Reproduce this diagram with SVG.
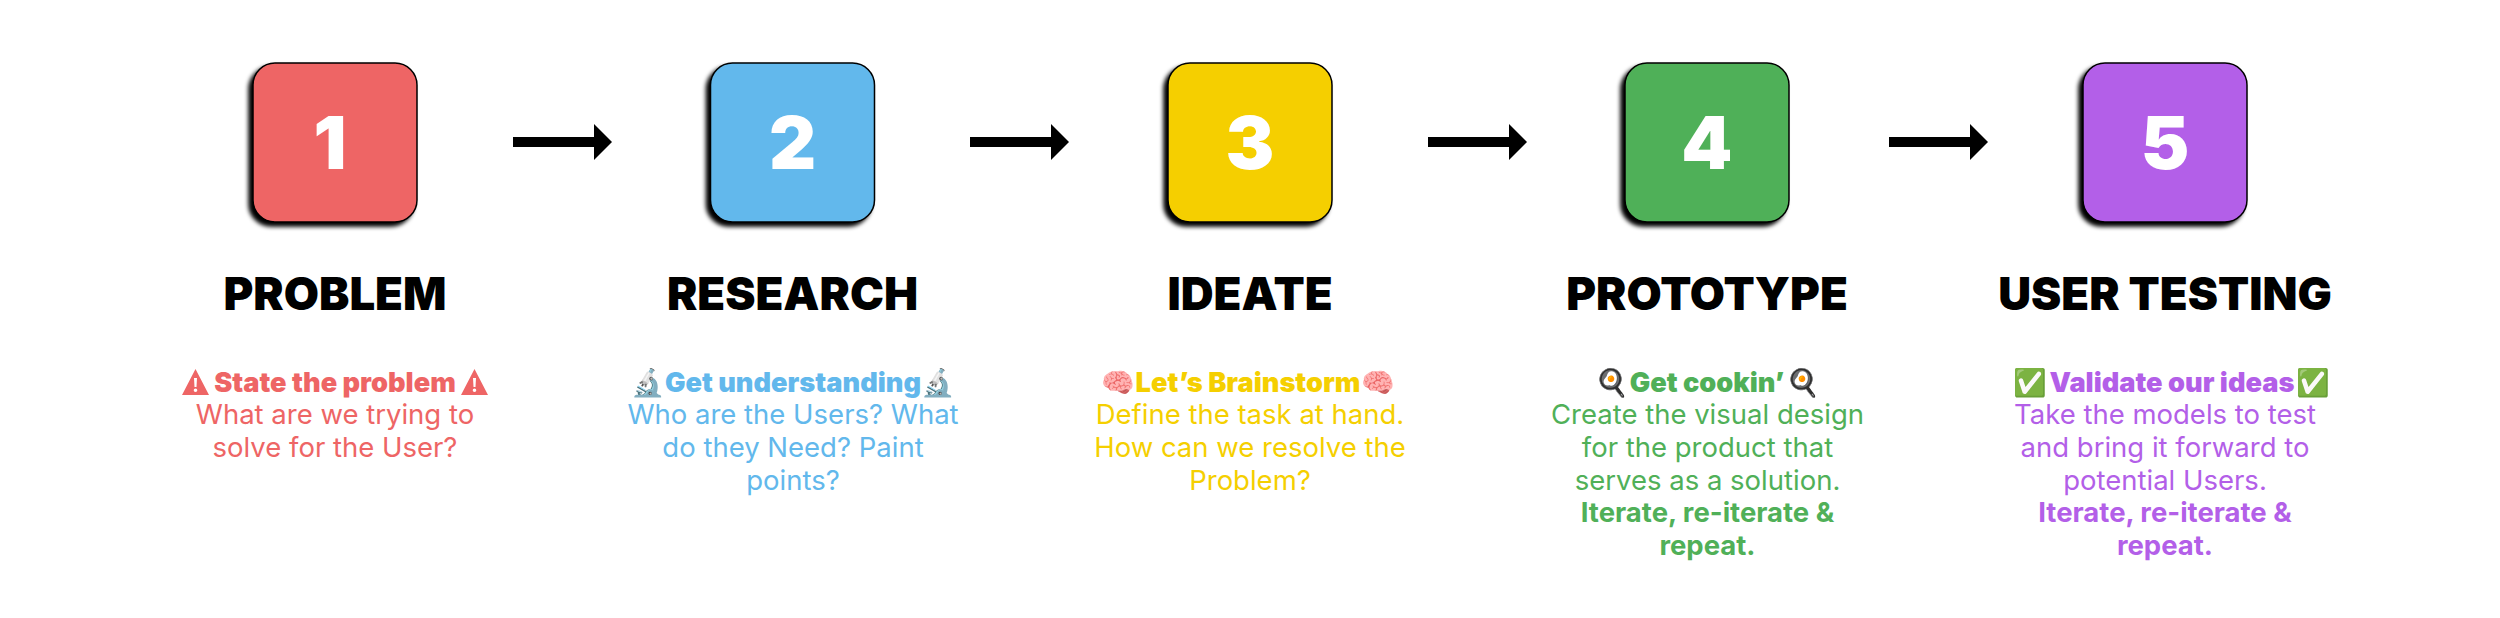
<svg xmlns="http://www.w3.org/2000/svg" width="2500" height="618" viewBox="0 0 2500 618">
<style>
text{font-family:Inter,"Noto Sans",sans-serif;text-anchor:middle}
.box{stroke:#000;stroke-width:1.5;filter:url(#sh)}
.num{font-size:73px;font-weight:900;fill:#fff}
.head{font-size:45.5px;font-weight:900;fill:#000}
.b{font-size:27.5px;font-weight:400}
.t{font-size:27.2px;font-weight:900}
.e{font-size:27px}
.s{font-weight:700}
.r{fill:#EE6565}.bl{fill:#62B8EC}.y{fill:#F5CF00}.g{fill:#50B058}.p{fill:#B35FE8}
</style>
<defs>
<filter id="sh" x="-10%" y="-10%" width="120%" height="120%"><feDropShadow dx="-4" dy="4" stdDeviation="2" flood-color="#000"/></filter>
<marker id="ah" markerUnits="userSpaceOnUse" markerWidth="18" markerHeight="36" refX="0" refY="18" orient="auto"><path d="M0 0L18 18L0 36Z" fill="#000" stroke="none"/></marker>
<path id="warn" fill-rule="evenodd" d="M13.5 0L27 26H0ZM12 9H15L14.5 18H12.5ZM13.5 19.5A1.8 1.8 0 1 0 13.5 23.1A1.8 1.8 0 1 0 13.5 19.5Z"/>
</defs>
<rect width="2500" height="618" fill="#fff"/>
<g id="connectors" stroke="#000" stroke-width="10" fill="none">
<path d="M513 142H594" marker-end="url(#ah)"/>
<path d="M970 142H1051" marker-end="url(#ah)"/>
<path d="M1428 142H1509" marker-end="url(#ah)"/>
<path d="M1889 142H1970" marker-end="url(#ah)"/>
</g>
<g id="n1"><rect class="box r" x="253" y="63" width="164" height="159" rx="22"/><text class="num" x="330" y="169">1</text><text class="head" x="335" y="310">PROBLEM</text>
<text class="t r" x="335" y="392">State the problem</text><use href="#warn" class="r" x="182" y="369"/><use href="#warn" class="r" x="461" y="369"/><text class="b r" x="335" y="424">What are we trying to</text><text class="b r" x="335" y="457">solve for the User?</text></g>
<g id="n2"><rect class="box bl" x="710.5" y="63" width="164" height="159" rx="22"/><text class="num" x="792.5" y="169">2</text><text class="head" x="792.5" y="310">RESEARCH</text>
<text class="t bl" x="793" y="392">Get understanding</text><text class="e" x="648" y="392">🔬</text><text class="e" x="938" y="392">🔬</text><text class="b bl" x="793" y="424">Who are the Users? What</text><text class="b bl" x="793" y="457">do they Need? Paint</text><text class="b bl" x="793" y="490">points?</text></g>
<g id="n3"><rect class="box y" x="1168" y="63" width="164" height="159" rx="22"/><text class="num" x="1250" y="169">3</text><text class="head" x="1250" y="310">IDEATE</text>
<text class="t y" x="1248" y="392">Let’s Brainstorm</text><text class="e" x="1118" y="392">🧠</text><text class="e" x="1378" y="392">🧠</text><text class="b y" x="1250" y="424">Define the task at hand.</text><text class="b y" x="1250" y="457">How can we resolve the</text><text class="b y" x="1250" y="490">Problem?</text></g>
<g id="n4"><rect class="box g" x="1625" y="63" width="164" height="159" rx="22"/><text class="num" x="1707" y="169">4</text><text class="head" x="1707" y="310">PROTOTYPE</text>
<text class="t g" x="1707" y="392">Get cookin’</text><text class="e" x="1612" y="392">🍳</text><text class="e" x="1803" y="392">🍳</text><text class="b g" x="1707.5" y="424">Create the visual design</text><text class="b g" x="1707.5" y="457">for the product that</text><text class="b g" x="1707.5" y="490">serves as a solution.</text><text class="b g s" x="1707.5" y="522">Iterate, re-iterate &amp;</text><text class="b g s" x="1707.5" y="555">repeat.</text></g>
<g id="n5"><rect class="box p" x="2083" y="63" width="164" height="159" rx="22"/><text class="num" x="2165" y="169">5</text><text class="head" x="2165" y="310">USER TESTING</text>
<text class="t p" x="2172" y="392">Validate our ideas</text><text class="e" x="2030" y="392">✅</text><text class="e" x="2313" y="392">✅</text><text class="b p" x="2165" y="424">Take the models to test</text><text class="b p" x="2165" y="457">and bring it forward to</text><text class="b p" x="2165" y="490">potential Users.</text><text class="b p s" x="2165" y="522">Iterate, re-iterate &amp;</text><text class="b p s" x="2165" y="555">repeat.</text></g>
</svg>
